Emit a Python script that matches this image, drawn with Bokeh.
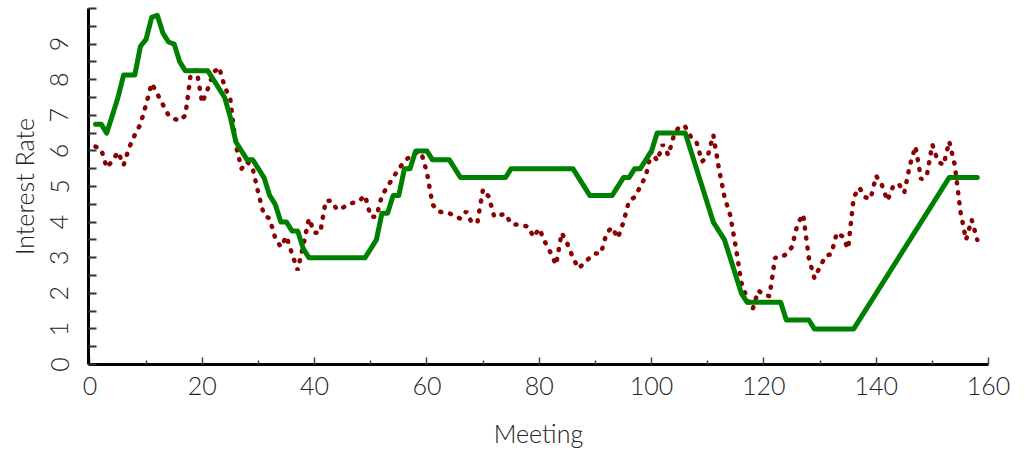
from bokeh.plotting import figure
from bokeh.models import FixedTicker, Range1d
from bokeh.embed import file_html
from bokeh.resources import INLINE

# ---- data ----
green_x = [1, 2, 3, 5, 6, 8, 9, 10, 11, 12, 13, 14, 15, 16, 17, 21, 24, 25, 26, 28, 29, 31, 32, 33, 34, 35, 36, 37, 38, 39,
           49, 51, 52, 53, 54, 55, 56, 57, 58, 60, 61, 64, 66, 74, 75, 86, 89, 93, 95, 96, 97, 98, 100, 101, 106,
           111, 113, 116, 117, 123, 124, 128, 129, 136, 153, 158]
green_y = [6.75, 6.75, 6.5, 7.5, 8.13, 8.13, 8.94, 9.13, 9.75, 9.81, 9.31, 9.06, 9.0, 8.5, 8.25, 8.25, 7.5, 6.95, 6.25, 5.75,
           5.75, 5.25, 4.75, 4.5, 4.0, 4.0, 3.75, 3.75, 3.25, 3.0,
           3.0, 3.5, 4.25, 4.25, 4.75, 4.75, 5.5, 5.5, 6.0, 6.0, 5.75, 5.75, 5.25, 5.25, 5.5, 5.5, 4.75, 4.75, 5.25, 5.25,
           5.5, 5.5, 6.0, 6.5, 6.5,
           4.0, 3.5, 2.0, 1.75, 1.75, 1.25, 1.25, 1.0, 1.0, 5.25, 5.25]

red_x = list(range(1, 159))
red_y = [6.12, 6.05, 5.53, 5.72, 5.97, 5.6, 6.1, 6.45, 6.75, 7.3,
         7.9, 7.6, 7.3, 7.0, 6.9, 6.85, 7.0, 8.22, 8.27, 7.35,
         7.75, 8.2, 8.35, 7.8, 7.45, 6.15, 5.5, 5.7, 5.5, 4.8,
         4.2, 4.1, 3.55, 3.3, 3.6, 3.1, 2.65, 3.35, 4.1, 3.7,
         3.7, 4.6, 4.6, 4.35, 4.4, 4.5, 4.55, 4.6, 4.75, 4.15,
         4.15, 4.75, 5.0, 5.25, 5.5, 5.7, 5.85, 5.95, 5.95, 5.4,
         4.5, 4.3, 4.27, 4.25, 4.15, 4.1, 4.3, 3.98, 4.0, 4.92,
         4.72, 4.15, 4.2, 4.23, 3.95, 3.93, 3.9, 3.88, 3.58, 3.82,
         3.45, 3.15, 2.8, 3.7, 3.4, 3.0, 2.7, 2.85, 3.0, 3.12,
         3.12, 3.7, 3.85, 3.55, 4.0, 4.6, 4.7, 5.0, 5.3, 6.0,
         5.72, 6.18, 5.88, 6.45, 6.7, 6.68, 6.4, 6.25, 5.7, 5.85,
         6.45, 5.5, 4.7, 4.2, 3.3, 2.3, 1.85, 1.55, 2.08, 1.95,
         1.92, 3.0, 3.0, 3.1, 3.3, 3.95, 4.22, 3.0, 2.42, 2.75,
         3.05, 3.1, 3.7, 3.6, 3.25, 4.7, 4.97, 4.7, 4.65, 5.3,
         5.05, 4.6, 5.0, 5.08, 4.82, 5.6, 6.13, 5.2, 5.3, 6.18,
         5.7, 5.6, 6.27, 5.6, 4.3, 3.5, 4.07, 3.5]

x_major = [0, 20, 40, 60, 80, 100, 120, 140, 160]
x_minor = [10, 30, 50, 70, 90, 110, 130, 150]
y_ticks = [i * 0.5 for i in range(21)]
y_labels = {0: "0", 1: "1", 2: "2", 3: "3", 4: "4", 5: "5", 6: "6", 7: "7", 8: "8", 9: "9"}

FONT = "Lato Light, DejaVu Sans"
TXT = "#222222"
FS = "25px"

p = figure(width=1025, height=451, output_backend="svg", toolbar_location=None,
           x_range=Range1d(-0.25, 160), y_range=Range1d(0, 10),
           min_border_left=88, min_border_right=37, min_border_top=8, min_border_bottom=87)
p.outline_line_color = None
p.grid.visible = False
p.background_fill_color = "white"
p.border_fill_color = "white"

p.line(red_x, red_y, line_color="#8b0000", line_width=4.5, line_dash="1 9", line_cap="round")
p.line(green_x, green_y, line_color="#008000", line_width=5, line_join="round", line_cap="round")

# x axis
xa = p.xaxis[0]
xa.ticker = FixedTicker(ticks=x_major, minor_ticks=x_minor)
xa.axis_line_width = 3
xa.axis_line_color = "black"
xa.major_tick_in = 7
xa.major_tick_out = 0
xa.minor_tick_in = 4
xa.minor_tick_out = 0
xa.major_tick_line_width = 1.5
xa.minor_tick_line_width = 1.5
xa.major_tick_line_color = "#444444"
xa.minor_tick_line_color = "#444444"
xa.major_label_text_font = FONT
xa.major_label_text_font_size = FS
xa.major_label_text_color = TXT
xa.major_label_standoff = 12
xa.axis_label = "Meeting"
xa.axis_label_text_font = FONT
xa.axis_label_text_font_size = FS
xa.axis_label_text_font_style = "normal"
xa.axis_label_text_color = TXT
xa.axis_label_standoff = 20

# y axis
ya = p.yaxis[0]
ya.ticker = FixedTicker(ticks=y_ticks)
ya.major_label_overrides = {t: y_labels.get(t, "") for t in y_ticks}
ya.axis_line_width = 3
ya.axis_line_color = "black"
ya.major_tick_in = 8
ya.major_tick_out = 0
ya.minor_tick_in = 0
ya.minor_tick_out = 0
ya.major_tick_line_width = 2
ya.major_tick_line_color = "#333333"
ya.major_label_orientation = "vertical"
ya.major_label_text_font = FONT
ya.major_label_text_font_size = FS
ya.major_label_text_color = TXT
ya.major_label_standoff = 20
ya.axis_label = "Interest Rate"
ya.axis_label_text_font = FONT
ya.axis_label_text_font_size = FS
ya.axis_label_text_font_style = "normal"
ya.axis_label_text_color = TXT
ya.axis_label_standoff = 9

open("out.html", "w").write(file_html(p, INLINE))
